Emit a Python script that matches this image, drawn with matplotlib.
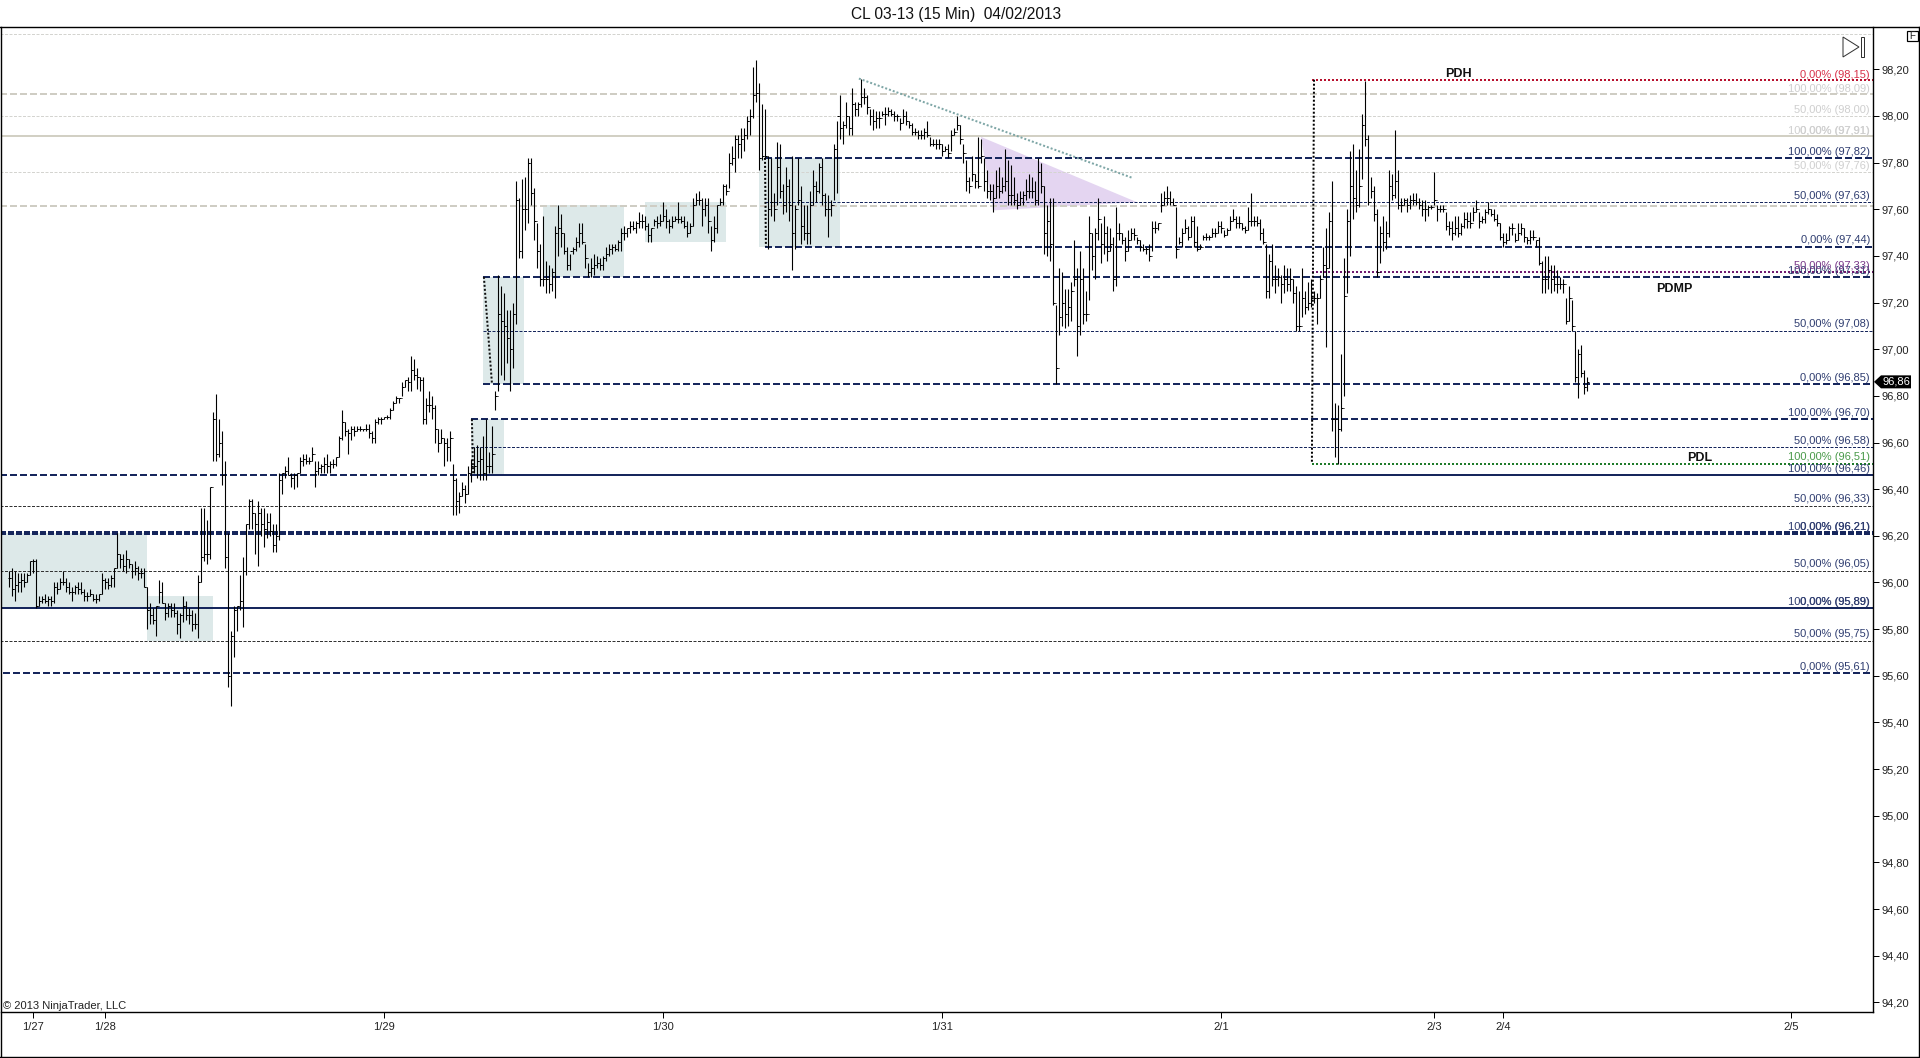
import matplotlib
matplotlib.use('Agg')
import matplotlib.pyplot as plt
from matplotlib.patches import Rectangle, Polygon
import numpy as np

plt.rcParams['font.family'] = ['Liberation Sans', 'DejaVu Sans']
plt.rcParams['lines.scale_dashes'] = False

# 15 minute bars
highs = [
    96.05,96.06,96.05,96.04,96.04,96.04,96.04,96.09,96.10,96.10,
    95.94,95.94,95.95,95.94,95.94,96.00,96.00,96.02,96.05,96.02,
    96.00,95.98,95.99,96.00,96.00,95.97,95.96,95.97,95.95,95.95,
    95.95,96.04,96.02,96.02,96.03,96.06,96.21,96.12,96.12,96.14,
    96.10,96.08,96.09,96.07,96.06,96.06,95.98,95.91,95.89,95.90,
    96.01,96.00,95.91,95.91,95.91,95.91,95.88,95.87,95.94,95.92,
    95.89,95.88,95.87,96.03,96.32,96.32,96.27,96.41,96.73,96.81,
    96.70,96.65,96.52,96.21,95.79,95.90,95.90,96.03,96.11,96.25,
    96.36,96.36,96.30,96.35,96.32,96.32,96.30,96.30,96.25,96.25,
    96.47,96.47,96.50,96.54,96.47,96.47,96.47,96.54,96.55,96.55,
    96.54,96.58,96.52,96.52,96.51,96.54,96.55,96.52,96.53,96.54,
    96.63,96.74,96.69,96.66,96.67,96.67,96.67,96.67,96.66,96.68,
    96.68,96.65,96.70,96.71,96.71,96.71,96.72,96.75,96.78,96.80,
    96.79,96.86,96.87,96.88,96.97,96.96,96.92,96.88,96.88,96.79,
    96.82,96.80,96.76,96.66,96.66,96.62,96.62,96.65,96.51,96.45,
    96.39,96.43,96.42,96.50,96.53,96.58,96.59,96.58,96.63,96.70,
    96.56,96.67,96.82,97.32,97.27,97.24,97.17,97.17,97.20,97.72,
    97.65,97.73,97.74,97.82,97.82,97.69,97.54,97.45,97.57,97.38,
    97.36,97.35,97.53,97.62,97.58,97.50,97.44,97.41,97.44,97.48,
    97.54,97.54,97.45,97.37,97.39,97.41,97.40,97.39,97.40,97.44,
    97.45,97.45,97.45,97.47,97.52,97.53,97.52,97.55,97.55,97.55,
    97.59,97.58,97.57,97.54,97.52,97.56,97.57,97.58,97.63,97.60,
    97.56,97.57,97.57,97.63,97.57,97.57,97.55,97.54,97.65,97.67,
    97.68,97.65,97.65,97.65,97.53,97.57,97.62,97.65,97.71,97.71,
    97.84,97.87,97.92,97.92,97.95,97.95,98.00,98.03,98.21,98.24,
    98.14,98.05,98.03,97.83,97.82,97.67,97.89,97.88,97.71,97.78,
    97.73,97.83,97.62,97.82,97.70,97.62,97.62,97.68,97.77,97.72,
    97.80,97.82,97.67,97.66,97.64,97.88,97.98,98.09,97.98,98.06,
    98.00,98.12,98.06,98.06,98.16,98.12,98.09,98.03,98.03,98.02,
    98.02,98.02,98.04,98.04,98.03,98.02,98.01,97.99,98.03,98.02,
    97.98,97.97,97.95,97.94,97.94,97.95,97.98,97.91,97.90,97.90,
    97.90,97.88,97.87,97.88,97.94,97.95,98.00,97.96,97.88,97.81,
    97.74,97.83,97.75,97.91,97.90,97.82,97.77,97.71,97.71,97.77,
    97.78,97.74,97.86,97.81,97.79,97.74,97.67,97.68,97.68,97.73,
    97.75,97.74,97.72,97.82,97.80,97.70,97.62,97.65,97.65,97.19,
    97.35,97.33,97.26,97.26,97.29,97.47,97.35,97.42,97.35,97.25,
    97.57,97.50,97.52,97.65,97.54,97.57,97.53,97.52,97.48,97.61,
    97.54,97.50,97.48,97.51,97.52,97.52,97.48,97.47,97.45,97.44,
    97.45,97.55,97.55,97.54,97.67,97.68,97.70,97.68,97.65,97.61,
    97.48,97.52,97.56,97.53,97.57,97.57,97.53,97.45,97.49,97.50,
    97.49,97.52,97.52,97.55,97.55,97.51,97.52,97.57,97.60,97.57,
    97.57,97.54,97.53,97.61,97.67,97.57,97.57,97.56,97.52,97.45,
    97.41,97.45,97.36,97.35,97.32,97.36,97.35,97.35,97.30,97.27,
    97.25,97.35,97.25,97.29,97.30,97.25,97.24,97.32,97.44,97.52,
    97.59,97.72,96.77,96.76,96.98,97.39,97.60,97.85,97.88,97.77,
    97.86,98.01,98.15,97.92,97.74,97.70,97.60,97.53,97.57,97.55,
    97.77,97.75,97.94,97.77,97.65,97.65,97.65,97.66,97.67,97.67,
    97.65,97.64,97.64,97.62,97.62,97.76,
    97.62,97.62,97.62,97.59,97.55,97.55,97.57,97.57,97.54,97.59,
    97.59,97.59,97.61,97.64,97.59,97.57,97.60,97.63,97.60,97.60,
    97.58,97.54,97.50,97.50,97.53,97.54,97.50,97.54,97.54,97.52,
    97.48,97.51,97.51,97.47,97.48,97.38,97.40,97.40,97.36,97.36,
    97.34,97.31,97.30,97.22,97.27,97.21,97.08,97.00,97.02,96.91,96.88,
]
lows = [
    95.98,95.94,95.92,95.96,95.96,95.98,96.00,96.03,96.04,95.89,
    95.90,95.91,95.91,95.90,95.90,95.91,95.95,95.97,95.99,95.96,
    95.95,95.92,95.95,95.95,95.95,95.92,95.92,95.94,95.92,95.91,
    95.92,95.95,95.97,95.97,95.98,95.98,96.06,96.06,96.05,96.04,
    96.06,96.02,96.03,96.01,96.02,95.98,95.80,95.82,95.82,95.77,
    95.91,95.91,95.84,95.85,95.85,95.85,95.78,95.76,95.83,95.84,
    95.82,95.79,95.80,95.76,96.00,96.09,96.08,96.10,96.52,96.52,
    96.54,96.42,96.06,95.55,95.47,95.68,95.79,95.88,95.81,96.03,
    96.23,96.23,96.12,96.07,96.20,96.15,96.19,96.20,96.13,96.13,
    96.18,96.38,96.45,96.46,96.41,96.40,96.41,96.47,96.50,96.51,
    96.51,96.52,96.41,96.46,96.47,96.47,96.47,96.47,96.49,96.50,
    96.54,96.61,96.63,96.55,96.61,96.63,96.65,96.65,96.65,96.65,
    96.62,96.60,96.60,96.68,96.68,96.70,96.70,96.70,96.74,96.77,
    96.77,96.80,96.84,96.82,96.82,96.87,96.83,96.82,96.68,96.68,
    96.73,96.70,96.60,96.56,96.60,96.50,96.52,96.52,96.29,96.29,
    96.30,96.37,96.34,96.38,96.43,96.47,96.45,96.44,96.44,96.44,
    96.47,96.47,96.74,96.82,96.89,96.87,96.94,96.82,96.92,97.11,
    97.39,97.39,97.51,97.54,97.62,97.47,97.35,97.27,97.27,97.24,
    97.24,97.25,97.22,97.40,97.44,97.41,97.34,97.34,97.41,97.42,
    97.44,97.45,97.35,97.31,97.31,97.32,97.35,97.34,97.34,97.38,
    97.40,97.41,97.42,97.42,97.42,97.47,97.48,97.50,97.51,97.50,
    97.52,97.52,97.51,97.46,97.46,97.53,97.52,97.53,97.55,97.52,
    97.50,97.52,97.55,97.54,97.54,97.52,97.48,97.50,97.53,97.62,
    97.62,97.53,97.57,97.50,97.42,97.46,97.50,97.62,97.62,97.66,
    97.69,97.79,97.76,97.82,97.82,97.85,97.90,97.92,97.99,98.06,
    97.77,97.81,97.82,97.43,97.57,97.55,97.62,97.65,97.58,97.59,
    97.55,97.34,97.43,97.62,97.45,97.47,97.45,97.45,97.62,97.63,
    97.67,97.62,97.57,97.48,97.57,97.64,97.67,97.90,97.88,97.95,
    97.92,97.92,98.00,98.00,98.04,98.05,98.01,97.96,97.94,97.95,
    97.95,98.00,97.96,98.00,98.00,97.98,97.98,97.94,97.97,97.96,
    97.95,97.92,97.92,97.90,97.90,97.90,97.91,97.87,97.87,97.86,
    97.86,97.83,97.85,97.82,97.85,97.92,97.94,97.88,97.80,97.68,
    97.67,97.72,97.69,97.69,97.80,97.68,97.65,97.64,97.59,97.65,
    97.65,97.67,97.68,97.62,97.62,97.62,97.60,97.62,97.62,97.64,
    97.65,97.65,97.62,97.62,97.67,97.41,97.40,97.38,97.19,96.85,
    97.06,97.10,97.09,97.10,97.12,97.27,96.97,97.06,97.11,97.12,
    97.21,97.34,97.30,97.47,97.37,97.41,97.38,97.42,97.25,97.27,
    97.47,97.45,97.38,97.42,97.47,97.47,97.45,97.42,97.42,97.41,
    97.38,97.42,97.50,97.51,97.59,97.62,97.62,97.62,97.62,97.39,
    97.45,97.44,97.50,97.47,97.48,97.44,97.42,97.43,97.47,97.47,
    97.47,97.48,97.48,97.50,97.50,97.48,97.49,97.51,97.55,97.52,
    97.52,97.51,97.50,97.51,97.53,97.53,97.53,97.47,97.45,97.22,
    97.22,97.27,97.24,97.27,97.20,97.24,97.25,97.25,97.20,97.08,
    97.08,97.14,97.15,97.17,97.18,97.20,97.11,97.22,97.31,97.01,
    97.35,96.65,96.54,96.51,96.65,96.80,97.24,97.40,97.56,97.59,
    97.61,97.73,97.87,97.62,97.65,97.55,97.31,97.37,97.42,97.43,
    97.48,97.64,97.65,97.60,97.59,97.62,97.59,97.60,97.62,97.62,
    97.60,97.57,97.55,97.57,97.60,97.62,
    97.55,97.59,97.59,97.51,97.49,97.47,97.49,97.48,97.49,97.52,
    97.52,97.52,97.55,97.59,97.52,97.54,97.54,97.58,97.57,97.55,
    97.53,97.47,97.44,97.45,97.47,97.49,97.46,97.47,97.49,97.46,
    97.45,97.45,97.47,97.44,97.36,97.24,97.24,97.26,97.24,97.25,
    97.24,97.26,97.24,97.11,97.12,97.08,96.86,96.79,96.88,96.81,96.82,
]
closes = [
    96.02,95.97,95.99,96.00,96.01,96.00,96.03,96.09,96.09,95.90,
    95.92,95.93,95.92,95.93,95.92,95.98,95.97,96.00,96.00,95.98,
    95.96,95.96,95.98,95.97,95.96,95.94,95.94,95.95,95.93,95.93,
    95.95,96.01,96.00,95.99,96.02,96.06,96.12,96.10,96.07,96.10,
    96.08,96.05,96.06,96.04,96.04,95.98,95.88,95.86,95.84,95.90,
    95.96,95.91,95.87,95.90,95.88,95.87,95.82,95.86,95.90,95.86,
    95.86,95.82,95.82,96.00,96.11,96.12,96.12,96.41,96.70,96.55,
    96.60,96.46,96.11,95.60,95.77,95.88,95.90,95.92,96.05,96.25,
    96.35,96.30,96.25,96.30,96.25,96.23,96.26,96.22,96.16,96.20,
    96.44,96.47,96.48,96.46,96.45,96.46,96.47,96.52,96.53,96.52,
    96.52,96.55,96.48,96.49,96.50,96.51,96.50,96.51,96.51,96.54,
    96.62,96.69,96.65,96.64,96.66,96.65,96.66,96.66,96.66,96.66,
    96.64,96.62,96.69,96.70,96.70,96.71,96.71,96.74,96.77,96.79,
    96.79,96.84,96.87,96.86,96.91,96.89,96.88,96.87,96.70,96.76,
    96.76,96.75,96.66,96.60,96.62,96.60,96.58,96.62,96.44,96.35,
    96.37,96.40,96.38,96.47,96.50,96.50,96.52,96.53,96.47,96.50,
    96.50,96.55,96.80,97.15,97.12,97.10,97.05,97.00,97.15,97.64,
    97.42,97.60,97.60,97.80,97.67,97.55,97.42,97.30,97.30,97.30,
    97.28,97.33,97.50,97.52,97.50,97.42,97.36,97.42,97.43,97.46,
    97.50,97.46,97.39,97.33,97.35,97.36,97.37,97.36,97.39,97.41,
    97.43,97.44,97.43,97.46,97.50,97.50,97.52,97.53,97.52,97.54,
    97.55,97.55,97.53,97.49,97.52,97.55,97.54,97.55,97.57,97.55,
    97.53,97.55,97.56,97.56,97.55,97.53,97.50,97.53,97.62,97.64,
    97.64,97.60,97.62,97.55,97.47,97.52,97.62,97.63,97.70,97.68,
    97.80,97.82,97.90,97.88,97.90,97.92,97.98,98.00,98.09,98.10,
    97.82,97.83,97.83,97.60,97.63,97.60,97.78,97.68,97.62,97.70,
    97.62,97.50,97.60,97.64,97.53,97.50,97.50,97.62,97.70,97.68,
    97.78,97.66,97.60,97.60,97.62,97.86,98.00,97.95,97.96,98.00,
    97.95,98.05,98.03,98.05,98.08,98.08,98.04,98.00,97.98,97.99,
    97.99,98.01,98.01,98.02,98.01,98.00,98.00,97.97,98.00,97.98,
    97.96,97.93,97.93,97.92,97.92,97.93,97.92,97.88,97.88,97.88,
    97.88,97.85,97.86,97.84,97.92,97.93,97.96,97.90,97.84,97.72,
    97.70,97.75,97.72,97.70,97.83,97.72,97.68,97.68,97.65,97.70,
    97.68,97.70,97.72,97.66,97.66,97.64,97.62,97.65,97.66,97.68,
    97.68,97.68,97.64,97.76,97.70,97.50,97.55,97.45,97.20,96.92,
    97.14,97.20,97.15,97.18,97.25,97.30,97.10,97.30,97.15,97.15,
    97.50,97.40,97.50,97.56,97.45,97.50,97.42,97.45,97.30,97.50,
    97.50,97.47,97.42,97.47,97.50,97.49,97.47,97.44,97.43,97.43,
    97.40,97.52,97.52,97.54,97.62,97.65,97.65,97.63,97.62,97.43,
    97.46,97.50,97.52,97.48,97.55,97.46,97.43,97.44,97.48,97.48,
    97.48,97.50,97.50,97.53,97.52,97.49,97.51,97.55,97.56,97.54,
    97.54,97.52,97.51,97.55,97.55,97.55,97.54,97.50,97.46,97.25,
    97.38,97.30,97.30,97.31,97.28,97.30,97.28,97.30,97.24,97.10,
    97.10,97.22,97.18,97.20,97.22,97.22,97.22,97.30,97.36,97.35,
    97.55,96.70,96.70,96.66,96.75,97.23,97.55,97.70,97.65,97.62,
    97.70,97.96,97.90,97.63,97.68,97.58,97.33,97.50,97.46,97.50,
    97.70,97.66,97.72,97.62,97.62,97.64,97.62,97.64,97.64,97.63,
    97.62,97.60,97.60,97.61,97.61,97.64,
    97.60,97.60,97.60,97.53,97.52,97.50,97.52,97.50,97.53,97.56,
    97.55,97.54,97.59,97.60,97.55,97.56,97.59,97.60,97.58,97.56,
    97.54,97.48,97.46,97.47,97.52,97.52,97.47,97.50,97.52,97.48,
    97.47,97.48,97.48,97.47,97.37,97.30,97.30,97.34,97.30,97.28,
    97.28,97.28,97.28,97.12,97.22,97.10,96.88,96.98,96.90,96.84,96.86,
]
last_price = 96.86

y_ticks = [94.2,94.4,94.6,94.8,95.0,95.2,95.4,95.6,95.8,96.0,96.2,96.4,96.6,96.8,97.0,97.2,97.4,97.6,97.8,98.0,98.2]
x_tick_bars = [8, 32, 125, 218, 311, 404, 475, 498, 594]
x_tick_labels = ['1/27', '1/28', '1/29', '1/30', '1/31', '2/1', '2/3', '2/4', '2/5']

# consolidation boxes
box_start = [-3, 46, 158, 154, 178, 212, 250]
box_end = [46, 68, 171.7, 165, 205, 239, 277]
box_top = [96.21, 95.94, 97.31, 96.70, 97.62, 97.63, 97.82]
box_bottom = [95.89, 95.75, 96.85, 96.46, 97.31, 97.46, 97.44]

# fib levels, one pair of lists per line type
navy_dashed = [97.82, 97.44, 97.31, 96.85, 96.70, 95.61]
navy_dashed_start = [252, 252, 158, 158, 154, -2]
navy_thin = [97.63, 97.08, 96.58]
navy_thin_start = [252, 158, 154]
dark_thin = [96.33, 96.05, 95.75]
gray_dashed = [98.095, 97.615]
gray_thin = [98.35, 98.00, 97.76]

# (text, price)
navy_labels = [('100,00% (97,82)', 97.82), ('50,00% (97,63)', 97.63), ('0,00% (97,44)', 97.44),
               ('100,00% (97,31)', 97.31), ('50,00% (97,08)', 97.08), ('0,00% (96,85)', 96.85),
               ('100,00% (96,70)', 96.70), ('50,00% (96,58)', 96.58), ('100,00% (96,46)', 96.46),
               ('50,00% (96,33)', 96.33), ('100,00% (96,21)', 96.21), ('0,00% (96,21)', 96.21),
               ('50,00% (96,05)', 96.05), ('100,00% (95,89)', 95.89), ('0,00% (95,89)', 95.89),
               ('50,00% (95,75)', 95.75), ('0,00% (95,61)', 95.61)]
gray_labels = [('100,00% (98,09)', 98.09), ('50,00% (98,00)', 98.00), ('100,00% (97,91)', 97.91),
               ('0,00% (97,91)', 97.91), ('50,00% (97,76)', 97.76)]

fig = plt.figure(figsize=(19.2, 10.58), dpi=100, facecolor='white')
ax = fig.add_axes([1 / 1920, (1058 - 1012) / 1058, 1872 / 1920, 985 / 1058])
ax.set_xlim(-2.667, 621.33)
ax.set_ylim(94.159, 98.381)

NAVY = '#16265c'
TEXT_NAVY = '#2f3d70'
PX = 0.72  # one pixel in points

# boxes
for x0, x1, top, bot in zip(box_start, box_end, box_top, box_bottom):
    ax.add_patch(Rectangle((x0, bot), x1 - x0, top - bot, color='#dde9e9', lw=0, zorder=1))
ax.add_patch(Polygon([(324, 97.91), (376, 97.63), (328, 97.595)], color='#e4d5f1', lw=0, zorder=1))

# level lines
right = 621.33
ax.hlines(navy_dashed, navy_dashed_start, right, colors=NAVY, lw=2 * PX, linestyles=[(0, (7 * PX, 3 * PX))], zorder=2)
ax.hlines(navy_thin, navy_thin_start, right, colors=NAVY, lw=PX, linestyles=[(0, (3 * PX, 1.5 * PX))], zorder=2)
ax.hlines(dark_thin, -3, right, colors='#333333', lw=PX, linestyles=[(0, (3 * PX, 1.5 * PX))], zorder=2)
ax.hlines(gray_dashed, -3, right, colors='#cfcdc4', lw=2 * PX, linestyles=[(0, (7 * PX, 3 * PX))], zorder=2)
ax.hlines(gray_thin, -3, right, colors='#d4d4d0', lw=PX, linestyles=[(0, (3 * PX, 1.5 * PX))], zorder=2)
ax.hlines(97.915, -3, right, colors='#d2d0c4', lw=2 * PX, zorder=2)
ax.hlines(96.21, -3, right, colors=NAVY, lw=4 * PX, linestyles=[(0, (6 * PX, 2 * PX))], zorder=2)
ax.hlines(95.89, -3, right, colors=NAVY, lw=2 * PX, zorder=2)
ax.hlines(96.46, -3, 154, colors=NAVY, lw=2 * PX, linestyles=[(0, (7 * PX, 3 * PX))], zorder=2)
ax.hlines(96.46, 154, right, colors=NAVY, lw=2 * PX, zorder=2)
dots = (0, (2 * PX, 2 * PX))
ax.hlines(98.155, 434.3, right, colors='#b8102e', lw=2 * PX, linestyles=[dots], zorder=2)
ax.hlines(97.33, 434.3, right, colors='#701a70', lw=2 * PX, linestyles=[dots], zorder=2)
ax.hlines(96.51, 434.3, right, colors='#1f7a2a', lw=2 * PX, linestyles=[dots], zorder=2)

# drawn lines
ax.plot([435, 434.3], [98.155, 96.51], color='black', lw=2 * PX, ls=dots, zorder=2)
ax.plot([158.3, 161], [97.31, 96.85], color='#111111', lw=2 * PX, ls=dots, zorder=2)
ax.plot([252, 252.3], [97.82, 97.44], color='black', lw=2 * PX, ls=dots, zorder=2)
ax.plot([154.3, 154.7], [96.70, 96.46], color='#111111', lw=2 * PX, ls=dots, zorder=2)
ax.plot([283.3, 374.3], [98.16, 97.735], color='#7ea6a6', lw=2 * PX, ls=dots, zorder=2)

# OHLC bars, each bar opens at the previous close
bars = np.arange(len(highs))
opens = [closes[0]] + closes[:-1]
ax.vlines(bars, lows, highs, colors='black', lw=1.1 * PX, zorder=3)
ax.hlines(opens, bars - 0.5, bars, colors='black', lw=PX, zorder=3)
ax.hlines(closes, bars, bars + 0.5, colors='black', lw=PX, zorder=3)


def level_label(text, price, color):
    ax.annotate(text, xy=(620.3, price), xytext=(0, 2.4), textcoords='offset points',
                ha='right', va='baseline', fontsize=8, color=color, zorder=4)


for text, price in navy_labels:
    level_label(text, price, TEXT_NAVY)
for text, price in gray_labels:
    level_label(text, price, '#cfcfcf')
level_label('0,00% (98,15)', 98.15, '#d8324a')
level_label('50,00% (97,33)', 97.33, '#7a3a8a')
level_label('100,00% (96,51)', 96.51, '#4a9a4a')

ax.text(483, 98.165, 'PDH', fontsize=9, fontweight='bold', ha='center', va='baseline', color='#111111', zorder=4)
ax.text(555, 97.245, 'PDMP', fontsize=9, fontweight='bold', ha='center', va='baseline', color='#111111', zorder=4)
ax.text(563.5, 96.52, 'PDL', fontsize=9, fontweight='bold', ha='center', va='baseline', color='#111111', zorder=4)
ax.text(-2, 94.162, '\u00a9 2013 NinjaTrader, LLC', fontsize=8, ha='left', va='bottom', color='#222222', zorder=4)

# axes
for side in ['top', 'left']:
    ax.spines[side].set_visible(False)
ax.spines['right'].set_linewidth(1.4 * PX)
ax.spines['bottom'].set_linewidth(1.4 * PX)
ax.yaxis.tick_right()
ax.set_yticks(y_ticks)
ax.set_yticklabels([f'{v:.2f}'.replace('.', ',') for v in y_ticks])
ax.set_xticks(x_tick_bars)
ax.set_xticklabels(x_tick_labels)
ax.tick_params(axis='y', length=6 * PX, width=PX, pad=2, labelsize=8, labelcolor='#222222')
ax.tick_params(axis='x', length=6 * PX, width=PX, pad=3, labelsize=8, labelcolor='#222222')

ax.set_facecolor('white')
fig.text(956 / 1920, 1 - 15 / 1058, 'CL 03-13 (15 Min)  04/02/2013', fontsize=11.2, ha='center', va='center', color='#111111')

# window chrome in pixel coordinates
frame = fig.add_axes([0, 0, 1, 1], facecolor='none')
frame.set_xlim(0, 1920)
frame.set_ylim(1058, 0)
frame.axis('off')
frame.plot([0, 1920], [27, 27], color='black', lw=1.4 * PX)
frame.plot([0.7, 0.7], [27, 1058], color='black', lw=1.4 * PX)
frame.plot([1919, 1919], [27, 1058], color='black', lw=1.4 * PX)
frame.plot([0, 1920], [1057, 1057], color='black', lw=1.4 * PX)
frame.add_patch(Rectangle((1907, 31), 11, 10, fc='white', ec='black', lw=1.2 * PX))
frame.text(1912.5, 36, 'F', fontsize=7, ha='center', va='center', color='#222222')
frame.add_patch(Polygon([(1843, 37), (1859, 47), (1843, 57)], fc='white', ec='#333333', lw=PX))
frame.add_patch(Rectangle((1860.5, 37), 3, 20, fc='white', ec='#333333', lw=PX))

# last price tag
tag_y = 1058 - ax.transData.transform((0, last_price))[1]
frame.add_patch(Polygon([(1874, tag_y), (1881, tag_y - 6.5), (1911, tag_y - 6.5), (1911, tag_y + 6.5), (1881, tag_y + 6.5)],
                        fc='black', ec='black', lw=0))
frame.text(1896, tag_y, f'{last_price:.2f}'.replace('.', ','), fontsize=8, color='white', ha='center', va='center')

fig.savefig('out.png', dpi=100)
